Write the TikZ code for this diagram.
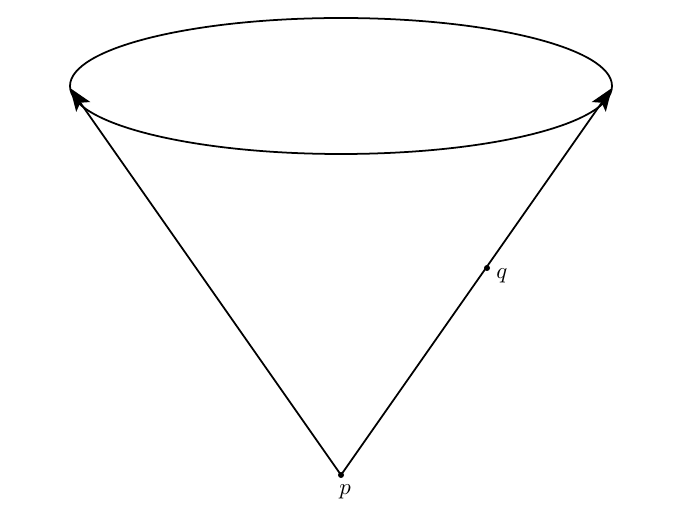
\documentclass[tikz,border=0pt]{standalone}
\usetikzlibrary{arrows.meta}
\begin{document}
\begin{tikzpicture}[x=0.02cm,y=-0.02cm,
  curve/.style={line width=1pt},
  ray/.style={line width=1pt,-{Stealth[length=4.6mm,width=3.4mm,inset=1mm]}},
  dot/.style={circle,fill,inner sep=0pt,minimum size=0.12cm},
  lbl/.style={scale=1.3}]
\useasboundingbox (0,0) rectangle (683,526);
\draw[curve] (341,86) ellipse [x radius=271, y radius=68];
\node[dot] (p) at (341,475) {};
\node[dot] (q) at (487,268) {};
\coordinate (l) at (70,88);
\coordinate (r) at (612,88);
\node[lbl] at (345,492) {$p$};
\node[lbl] at (502,276) {$q$};
\draw[ray] (p.center) -- (l);
\draw[ray] (p.center) -- (r);
\end{tikzpicture}
\end{document}
